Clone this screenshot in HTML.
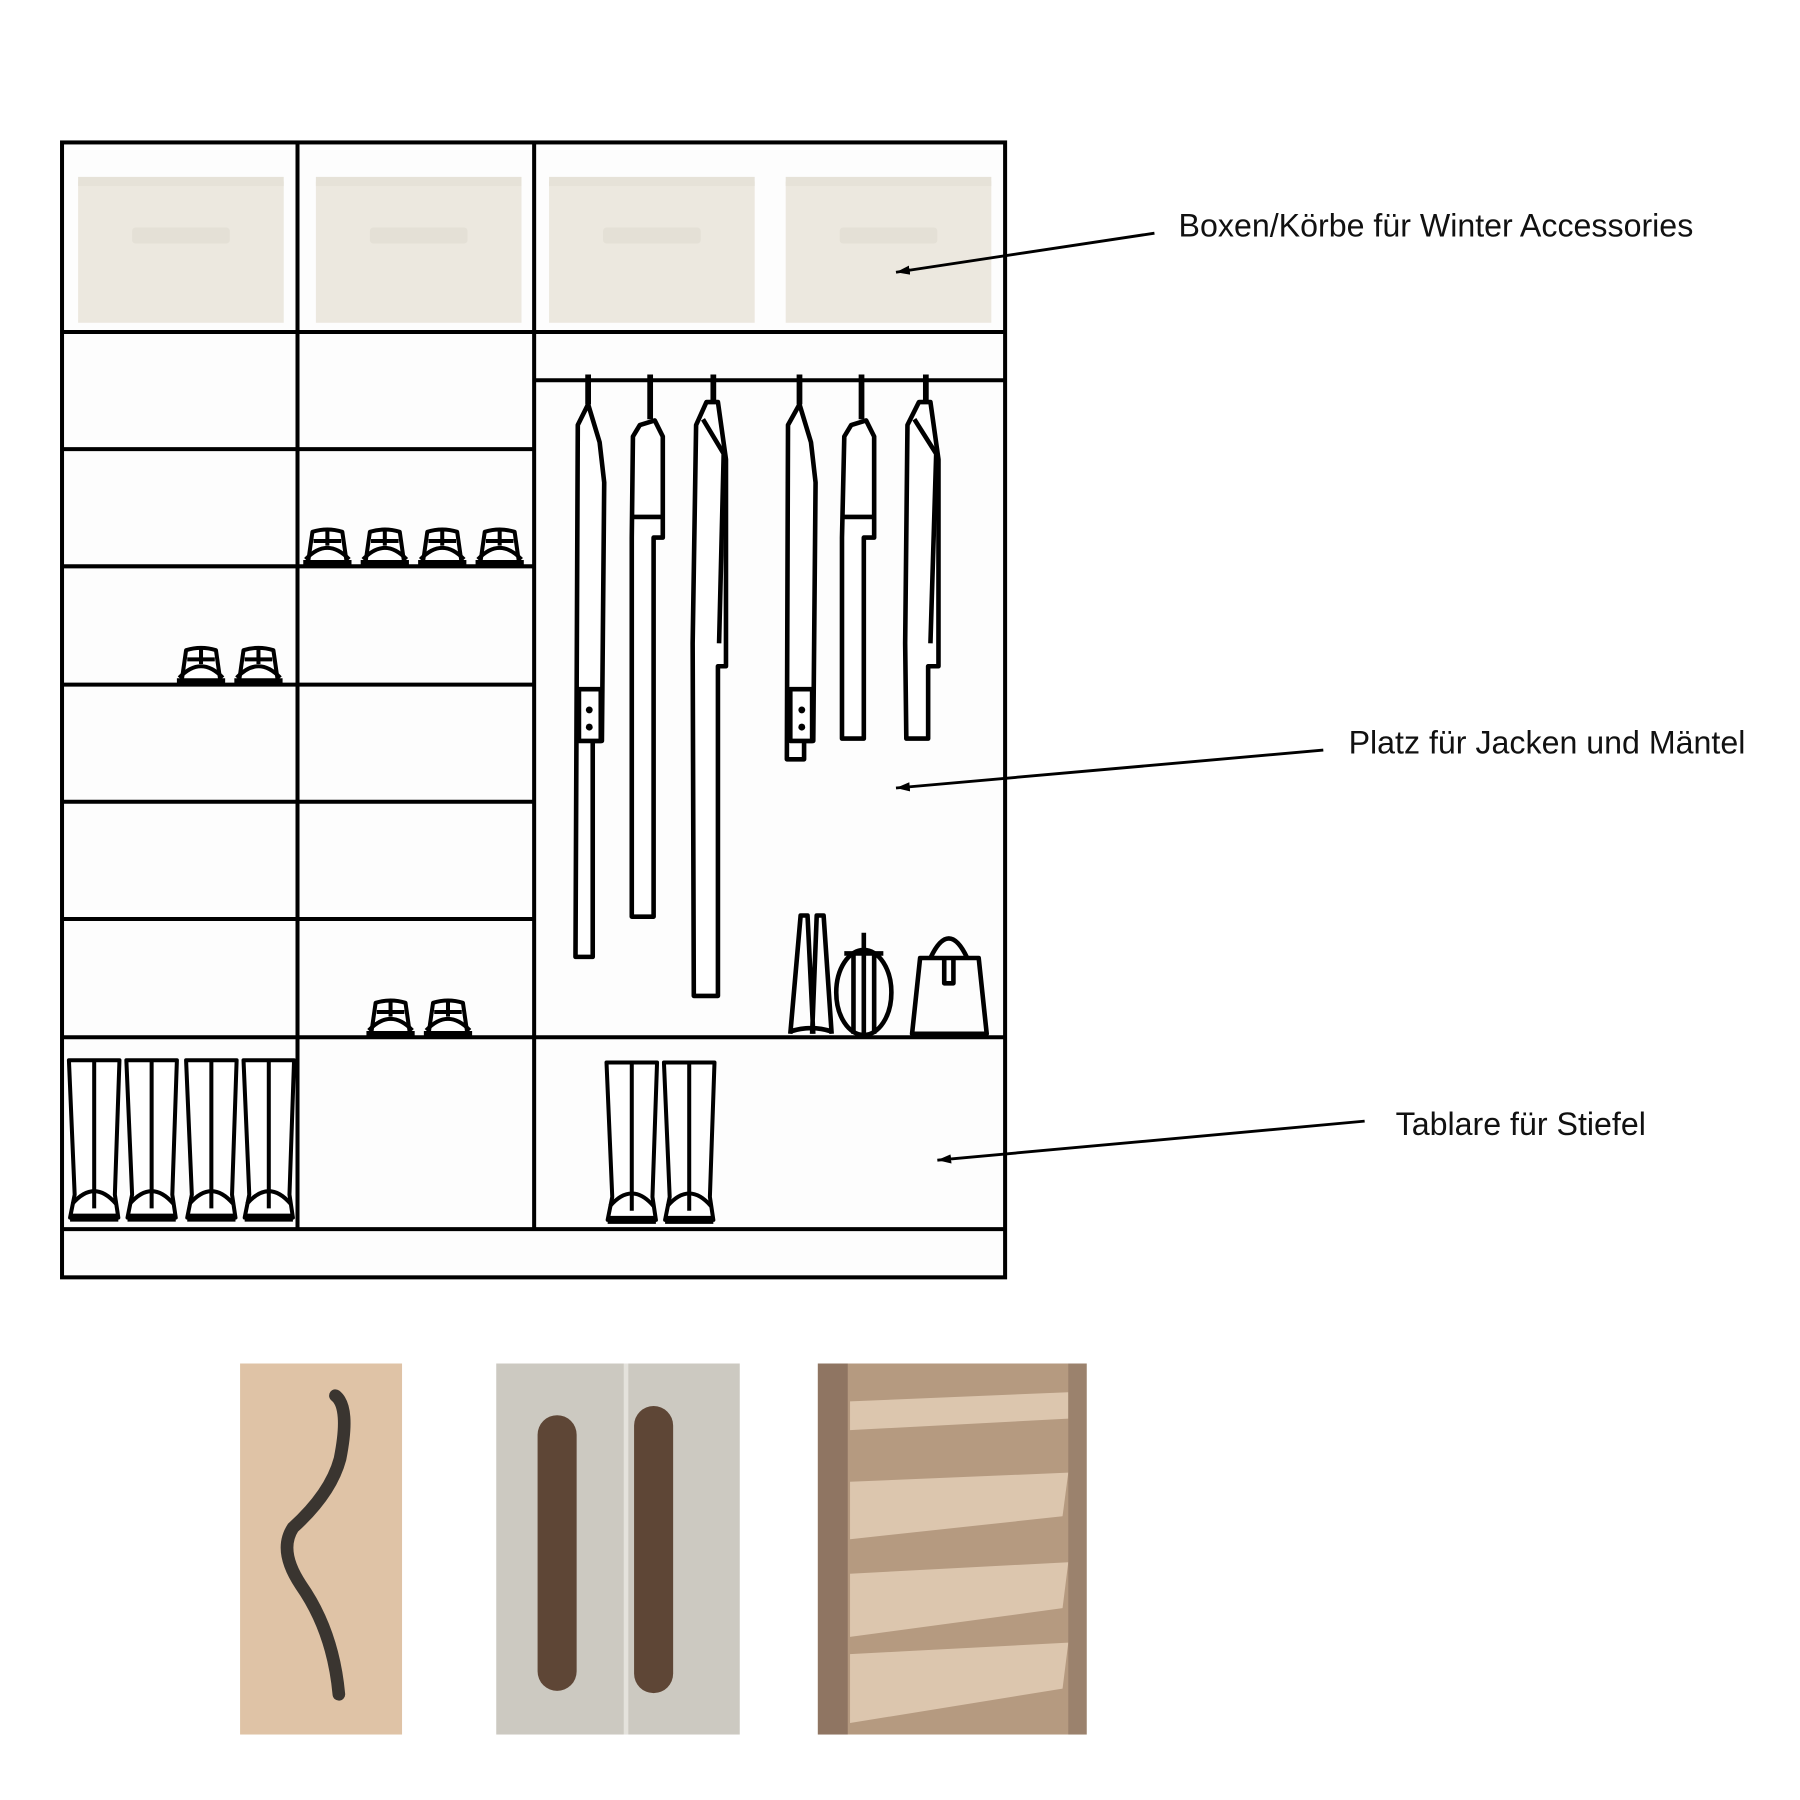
<!DOCTYPE html>
<html><head><meta charset="utf-8"><style>
html,body{margin:0;padding:0;background:#fff;}
svg{display:block}
text{font-family:"Liberation Sans",sans-serif;font-size:28px;fill:#111;}
</style></head><body>
<svg width="1800" height="1800" viewBox="0 0 1567 1567" xmlns="http://www.w3.org/2000/svg">
<defs>
<marker id="ah" markerWidth="12" markerHeight="8" refX="12" refY="4" orient="auto" markerUnits="userSpaceOnUse"><path d="M0,0 L12,4 L0,8 Z" fill="#000"/></marker>
<g id="shoe" fill="none" stroke="#000" stroke-width="3.5" stroke-linejoin="round">
<path d="M5,32 L9,4 Q22,0 35,4 L39,32 Z" fill="#fff"/>
<path d="M3,28 Q22,8 41,28"/>
<path d="M22,3 L22,16 M10,12 L34,12"/>
<path d="M1,31 L43,31" stroke-width="5"/>
</g>
<g id="boot" fill="none" stroke="#000" stroke-width="3.5" stroke-linejoin="round">
<path d="M2,3 L46,3 L42,120 L45,140 L3,140 L7,120 Z" fill="#fff"/>
<path d="M24,3 L24,132"/>
<path d="M5,128 Q24,106 43,128"/>
<path d="M3,140 L45,140" stroke-width="7"/>
</g>
<g id="box"><rect width="179" height="123" fill="#ece8df"/><rect x="0" y="-4" width="179" height="8" fill="#e6e2d8"/><rect x="47" y="40" width="85" height="14" fill="#e4e0d6" rx="3"/></g>
</defs>
<rect width="1567" height="1567" fill="#fff"/>
<rect x="54" y="124" width="821" height="988" fill="#fdfdfd"/>
<use href="#box" x="68" y="158"/><use href="#box" x="275" y="158"/><use href="#box" x="478" y="158"/><use href="#box" x="684" y="158"/>
<g stroke="#000" stroke-width="3.5" fill="none">
<rect x="54" y="124" width="821" height="988"/>
<path d="M259,124 V1070 M465,124 V1070 M54,289 H875 M465,331 H875 M54,1070 H875 M465,903 H875"/>
<path d="M54,391 H465 M54,493 H465 M54,596 H465 M54,698 H465 M54,800 H465 M54,903 H465"/>
</g>
<g stroke="#000" stroke-width="4" fill="#fff" stroke-linejoin="round">
<path d="M512,326 V352 M566,326 V365 M621,326 V350 M696,326 V352 M750,326 V365 M806,326 V350" fill="none" stroke-width="5"/>
<path d="M503,370 L512,352 L522,385 L526,420 L524,645 L516,645 L516,833 L501,833 Z"/>
<path d="M504,600 H523 V645 H504 Z"/><circle cx="513" cy="618" r="3" fill="#000" stroke="none"/><circle cx="513" cy="633" r="3" fill="#000" stroke="none"/>
<path d="M551,380 L557,370 L570,366 L577,380 L577,468 L569,468 L569,798 L550,798 V468 Z"/><path d="M550,450 H577"/>
<path d="M606,370 L615,350 L625,350 L632,400 L632,580 L625,580 L625,867 L604,867 L603,560 Z"/><path d="M612,365 L630,395 L626,560"/>
<path d="M686,370 L696,352 L706,385 L710,420 L708,645 L700,645 L700,661 L685,661 Z"/>
<path d="M688,600 H707 V645 H688 Z"/><circle cx="698" cy="618" r="3" fill="#000" stroke="none"/><circle cx="698" cy="633" r="3" fill="#000" stroke="none"/>
<path d="M735,380 L741,370 L754,366 L761,380 L761,468 L752,468 L752,643 L733,643 V468 Z"/><path d="M733,450 H761"/>
<path d="M790,370 L800,350 L810,350 L817,400 L817,580 L808,580 L808,643 L789,643 L788,560 Z"/><path d="M796,365 L815,395 L810,560"/>
</g>
<g stroke="#000" stroke-width="4" fill="none" stroke-linejoin="round">
<path d="M688,900 L697,797 L703,797 L708,900 M707,900 L711,797 L717,797 L724,900 M688,898 Q706,892 724,898"/>
<ellipse cx="752" cy="864" rx="24" ry="37"/><path d="M743,828 V900 M761,828 V900 M752,812 V900 M735,830 H769"/>
<path d="M801,834 H852 L859,900 H794 Z"/><path d="M810,834 Q826,800 842,834"/><path d="M822,834 V856 H830 V834"/>
</g>
<use href="#shoe" x="153" y="562"/><use href="#shoe" x="203" y="562"/>
<use href="#shoe" x="263" y="459"/><use href="#shoe" x="313" y="459"/><use href="#shoe" x="363" y="459"/><use href="#shoe" x="413" y="459"/>
<use href="#shoe" x="318" y="869"/><use href="#shoe" x="368" y="869"/>
<use href="#boot" x="58" y="920"/><use href="#boot" x="108" y="920"/><use href="#boot" x="160" y="920"/><use href="#boot" x="210" y="920"/>
<use href="#boot" x="526" y="922"/><use href="#boot" x="576" y="922"/>
<g stroke="#000" stroke-width="2.5">
<line x1="1005" y1="203" x2="780" y2="237" marker-end="url(#ah)"/>
<line x1="1152" y1="653" x2="780" y2="686" marker-end="url(#ah)"/>
<line x1="1188" y1="976" x2="816" y2="1010" marker-end="url(#ah)"/>
</g>
<text x="1026" y="206">Boxen/Körbe für Winter Accessories</text>
<text x="1174" y="656">Platz für Jacken und Mäntel</text>
<text x="1215" y="988">Tablare für Stiefel</text>
<rect x="209" y="1187" width="141" height="323" fill="#dfc3a6"/>
<path d="M292,1215 Q305,1225 296,1270 Q288,1300 255,1330 Q242,1350 262,1380 Q290,1420 295,1475" stroke="#3a3530" stroke-width="11" fill="none" stroke-linecap="round"/>
<rect x="432" y="1187" width="212" height="323" fill="#ccc9c1"/>
<rect x="543" y="1187" width="4" height="323" fill="#e4e2dc"/>
<rect x="468" y="1232" width="34" height="240" rx="17" fill="#5e4636"/>
<rect x="552" y="1224" width="34" height="250" rx="17" fill="#5e4636"/>
<rect x="712" y="1187" width="234" height="323" fill="#b59a80"/>
<g fill="#dcc6ae">
<path d="M740,1220 L930,1212 L930,1235 L740,1245 Z"/>
<path d="M740,1290 L930,1282 L925,1320 L740,1340 Z"/>
<path d="M740,1370 L930,1360 L925,1400 L740,1425 Z"/>
<path d="M740,1440 L930,1430 L925,1470 L740,1500 Z"/>
</g>
<rect x="712" y="1187" width="26" height="323" fill="#8f7562"/>
<rect x="930" y="1187" width="16" height="323" fill="#9b826d"/>
</svg>
</body></html>
